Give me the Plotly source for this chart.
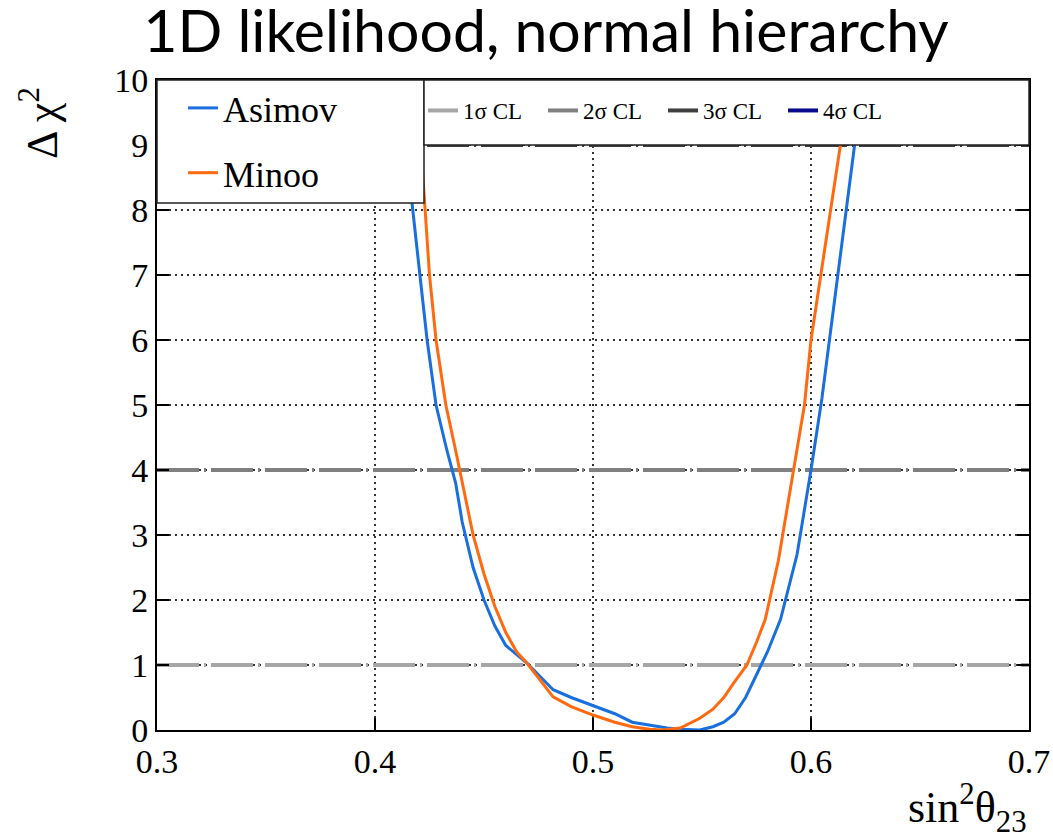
import plotly.graph_objects as go

# ---- data ----
asimov_x = [0.4125, 0.415, 0.417, 0.4206, 0.4239, 0.428, 0.433, 0.437, 0.440, 0.445,
            0.450, 0.455, 0.460, 0.4697, 0.4817, 0.490, 0.500, 0.510, 0.518, 0.526,
            0.534, 0.540, 0.545, 0.549, 0.555, 0.560, 0.565, 0.570, 0.575, 0.580,
            0.586, 0.5936, 0.600, 0.605, 0.610, 0.615, 0.620, 0.6225]
asimov_y = [10.0, 9.0, 8.1, 7.0, 6.0, 5.0, 4.3, 3.8, 3.2, 2.5,
            2.0, 1.6, 1.3, 1.03, 0.62, 0.50, 0.38, 0.25, 0.12, 0.07,
            0.03, 0.01, 0.0, 0.0, 0.05, 0.12, 0.25, 0.50, 0.85, 1.2,
            1.7, 2.7, 4.0, 5.1, 6.4, 7.7, 9.0, 10.0]

minoo_x = [0.419, 0.421, 0.4225, 0.425, 0.428, 0.4325, 0.437, 0.440, 0.445, 0.450,
           0.455, 0.460, 0.465, 0.4697, 0.4817, 0.490, 0.500, 0.510, 0.518, 0.526,
           0.532, 0.540, 0.549, 0.555, 0.560, 0.5645, 0.5706, 0.575, 0.579, 0.585,
           0.592, 0.597, 0.600, 0.605, 0.610, 0.6135, 0.617]
minoo_y = [10.0, 9.0, 8.1, 7.0, 6.0, 5.0, 4.3, 3.8, 3.0, 2.4,
           1.9, 1.5, 1.2, 1.03, 0.51, 0.36, 0.23, 0.12, 0.05, 0.01,
           0.0, 0.03, 0.18, 0.32, 0.50, 0.72, 1.0, 1.35, 1.7, 2.6,
           4.0, 5.0, 6.0, 7.1, 8.2, 9.0, 10.0]

cl_names = ["1\u03c3 CL", "2\u03c3 CL", "3\u03c3 CL", "4\u03c3 CL"]
cl_levels = [1, 4, 9, 16]
cl_colors = ["#a6a6a6", "#808080", "#404040", "#0a0a8c"]

x_range = [0.3, 0.7]
y_range = [0, 10]
x_ticks = [0.3, 0.4, 0.5, 0.6, 0.7]
y_ticks = list(range(0, 11))

serif = "Liberation Serif"
dashdot = "42px,5px,2px,5px"

fig = go.Figure()

for name, lev, col in zip(cl_names, cl_levels, cl_colors):
    fig.add_trace(go.Scatter(
        x=x_range, y=[lev, lev], mode="lines", name=name,
        line=dict(color=col, width=4, dash=dashdot if lev < 16 else "solid"),
        legend="legend2", hoverinfo="skip"))

fig.add_trace(go.Scatter(x=asimov_x, y=asimov_y, mode="lines", name="Asimov",
                         line=dict(color="#1a6fdf", width=3), legend="legend",
                         legendgroup="a"))
fig.add_trace(go.Scatter(x=minoo_x, y=minoo_y, mode="lines", name="Minoo",
                         line=dict(color="#ff6a10", width=3), legend="legend",
                         legendgroup="b"))

L, R, T, B = 157, 24, 80, 110
W, H = 1053, 840
pw = W - L - R
ph = H - T - B
lx1 = (424 - L) / pw
ly0 = (730 - 203) / ph

fig.update_layout(
    width=W, height=H,
    margin=dict(l=L, r=R, t=T, b=B, autoexpand=False),
    paper_bgcolor="white", plot_bgcolor="white",
    title=dict(text="1D likelihood, normal hierarchy",
               font=dict(family="Lato", size=59, color="black"),
               x=546 / W, xref="container", xanchor="center",
               y=1 - 31 / H, yref="container", yanchor="middle"),
    xaxis=dict(range=x_range, tickvals=x_ticks, ticktext=[f"{v:.1f}" for v in x_ticks],
               showgrid=True, gridcolor="#333333", gridwidth=1.5, griddash="2px,4px",
               zeroline=False, showline=True, linecolor="black", linewidth=2,
               mirror="ticks", ticks="inside", ticklen=12, tickwidth=1.5, tickcolor="black",
               tickfont=dict(family=serif, size=34, color="black")),
    yaxis=dict(range=y_range, tickvals=y_ticks, ticktext=[str(v) for v in y_ticks],
               showgrid=True, gridcolor="#333333", gridwidth=1.5, griddash="2px,4px",
               zeroline=False, showline=True, linecolor="black", linewidth=2,
               mirror="ticks", ticks="inside", ticklen=12, tickwidth=1.5, tickcolor="black",
               tickfont=dict(family=serif, size=34, color="black")),
    legend=dict(x=(183 - L) / pw, y=(730 - 78) / ph, xanchor="left", yanchor="top",
                bgcolor="rgba(0,0,0,0)", borderwidth=0, tracegroupgap=15,
                font=dict(family=serif, size=36, color="black")),
    legend2=dict(x=(423 - L) / pw, y=(730 - 89) / ph, xanchor="left", yanchor="top",
                 orientation="h", entrywidth=75, entrywidthmode="pixels",
                 bgcolor="rgba(0,0,0,0)", borderwidth=0,
                 font=dict(family=serif, size=23, color="black")),
    shapes=[
        dict(type="rect", xref="paper", yref="paper", x0=0, x1=lx1, y0=ly0, y1=1,
             fillcolor="white", line=dict(color="#222222", width=1.5), layer="above"),
        dict(type="rect", xref="paper", yref="paper", x0=lx1, x1=1, y0=0.9, y1=1,
             fillcolor="white", line=dict(color="#222222", width=1.5), layer="above"),
    ],
    annotations=[
        dict(text="\u0394 \u03c7<sup>2</sup>", xref="paper", yref="paper",
             x=-(L - 40) / pw, y=(730 - 123) / ph, xanchor="center", yanchor="middle",
             textangle=-90, showarrow=False,
             font=dict(family=serif, size=44, color="black")),
        dict(text="sin<sup>2</sup>\u03b8<sub>23</sub>", xref="paper", yref="paper",
             x=1, y=(730 - 808) / ph, xanchor="right", yanchor="middle",
             showarrow=False, font=dict(family=serif, size=44, color="black")),
    ],
)

fig.write_html("out.html")
